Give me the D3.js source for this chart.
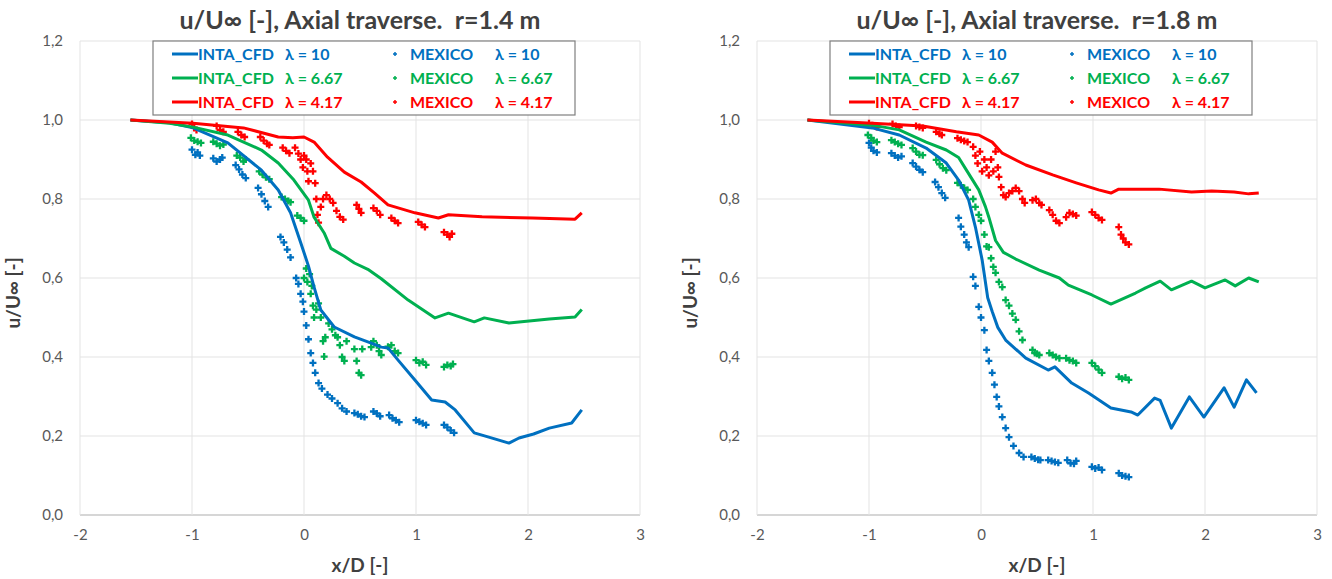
<!DOCTYPE html>
<html>
<head>
<meta charset="utf-8">
<script src="https://cdn.jsdelivr.net/npm/d3@7"></script>
<style>
  body { margin: 0; background: #fff; }
  svg { display: block; font-family: Lato, 'Open Sans', sans-serif; }
</style>
</head>
<body>
<div id="chart"></div>
<script>
// axis ticks
const xTicks = [-2, -1, 0, 1, 2, 3];
const yTicks = [0, 0.2, 0.4, 0.6, 0.8, 1.0, 1.2];

// series labels
const lambdas = ['10', '6.67', '4.17'];
const seriesColors = ['#0070C0', '#00B050', '#FF0000'];
const titles = ['u/U\u221E [-], Axial traverse.  r=1.4 m', 'u/U\u221E [-], Axial traverse.  r=1.8 m'];

// r = 1.4 m, INTA_CFD lines
const cfdL10 = [[-1.55,1.0],[-1.2,0.993],[-0.99,0.98],[-0.68,0.942],[-0.38,0.873],[-0.23,0.823],[-0.12,0.765],[-0.03,0.69],[0.04,0.63],[0.09,0.577],[0.15,0.519],[0.27,0.476],[0.45,0.451],[0.6,0.435],[0.69,0.425],[0.75,0.423],[0.84,0.392],[0.99,0.342],[1.14,0.291],[1.26,0.286],[1.35,0.266],[1.52,0.208],[1.65,0.197],[1.83,0.182],[1.92,0.195],[2.05,0.205],[2.19,0.22],[2.39,0.233],[2.48,0.266]];
const cfdL667 = [[-1.55,1.0],[-1.2,0.992],[-0.99,0.982],[-0.68,0.962],[-0.38,0.924],[-0.23,0.891],[-0.09,0.848],[0.04,0.797],[0.09,0.754],[0.18,0.714],[0.24,0.675],[0.36,0.655],[0.45,0.638],[0.57,0.622],[0.69,0.598],[0.93,0.544],[1.17,0.499],[1.29,0.511],[1.52,0.489],[1.61,0.499],[1.83,0.486],[2.19,0.496],[2.42,0.501],[2.48,0.52]];
const cfdL417 = [[-1.55,1.0],[-0.99,0.992],[-0.54,0.98],[-0.23,0.957],[-0.1,0.955],[0.0,0.957],[0.09,0.944],[0.21,0.906],[0.36,0.868],[0.51,0.843],[0.63,0.815],[0.75,0.785],[0.99,0.765],[1.2,0.752],[1.29,0.76],[1.59,0.755],[2.04,0.752],[2.42,0.749],[2.48,0.765]];

// r = 1.4 m, MEXICO points
const mexL10 = [[-1.0,0.925],[-0.97,0.912],[-0.95,0.918],[-0.93,0.91],
  [-0.81,0.903],[-0.78,0.895],[-0.75,0.9],[-0.73,0.905],
  [-0.61,0.886],[-0.58,0.875],[-0.55,0.862],[-0.52,0.853],
  [-0.41,0.828],[-0.38,0.812],[-0.35,0.795],[-0.32,0.78],
  [-0.21,0.704],[-0.18,0.69],[-0.15,0.672],[-0.12,0.652],
  [-0.07,0.6],[-0.05,0.585],[-0.03,0.56],[-0.01,0.54],[0.0,0.515],[0.02,0.48],[0.04,0.445],[0.06,0.41],[0.08,0.385],[0.1,0.36],[0.13,0.334],[0.16,0.32],[0.21,0.305],[0.25,0.295],[0.3,0.283],[0.34,0.27],[0.38,0.262],
  [0.45,0.258],[0.48,0.255],[0.51,0.25],[0.54,0.248],
  [0.62,0.262],[0.65,0.257],[0.68,0.25],
  [0.76,0.253],[0.79,0.245],[0.82,0.24],[0.85,0.235],
  [1.0,0.24],[1.03,0.236],[1.06,0.232],[1.09,0.228],
  [1.25,0.228],[1.28,0.222],[1.31,0.214],[1.34,0.208]];
const mexL667 = [[-1.01,0.955],[-0.98,0.948],[-0.95,0.945],[-0.92,0.942],
  [-0.81,0.945],[-0.78,0.94],[-0.75,0.935],[-0.72,0.938],
  [-0.6,0.91],[-0.57,0.905],[-0.54,0.895],[-0.52,0.9],
  [-0.4,0.87],[-0.37,0.862],[-0.34,0.855],[-0.31,0.85],
  [-0.2,0.805],[-0.17,0.8],[-0.14,0.795],[-0.12,0.792],
  [-0.06,0.758],[-0.03,0.752],[0.0,0.745],
  [0.0,0.6],[0.02,0.624],[0.03,0.59],[0.05,0.61],[0.06,0.56],[0.07,0.58],[0.08,0.53],[0.09,0.5],[0.11,0.52],
  [0.13,0.536],[0.15,0.5],[0.17,0.44],[0.18,0.401],[0.19,0.45],
  [0.22,0.485],[0.25,0.47],[0.28,0.455],
  [0.3,0.45],[0.32,0.43],[0.34,0.4],[0.36,0.39],[0.38,0.44],
  [0.45,0.42],[0.47,0.39],[0.49,0.36],[0.51,0.354],[0.52,0.42],
  [0.6,0.425],[0.62,0.44],[0.65,0.43],[0.67,0.415],[0.69,0.405],
  [0.75,0.426],[0.78,0.43],[0.81,0.415],[0.84,0.41],
  [1.0,0.392],[1.03,0.385],[1.06,0.388],[1.09,0.38],
  [1.25,0.375],[1.28,0.38],[1.31,0.377],[1.33,0.382]];
const mexL417 = [[-1.0,0.99],[-0.98,0.98],[-0.96,0.975],
  [-0.78,0.985],[-0.75,0.975],[-0.72,0.97],
  [-0.59,0.97],[-0.56,0.962],[-0.53,0.957],
  [-0.39,0.957],[-0.36,0.948],[-0.33,0.94],[-0.31,0.937],
  [-0.19,0.93],[-0.16,0.922],[-0.13,0.916],
  [-0.08,0.93],[-0.05,0.915],[-0.03,0.9],[-0.01,0.88],[0.0,0.91],[0.02,0.9],[0.03,0.87],[0.04,0.845],[0.06,0.89],[0.08,0.87],[0.1,0.84],[0.11,0.8],[0.12,0.76],[0.13,0.74],[0.15,0.78],[0.17,0.8],[0.2,0.81],[0.23,0.8],[0.26,0.79],[0.29,0.77],[0.32,0.755],[0.35,0.748],
  [0.47,0.785],[0.49,0.775],[0.51,0.765],
  [0.62,0.777],[0.65,0.77],[0.68,0.76],
  [0.78,0.752],[0.81,0.745],[0.84,0.739],
  [1.02,0.742],[1.05,0.735],[1.08,0.729],
  [1.25,0.716],[1.28,0.71],[1.3,0.704],[1.32,0.712]];

// r = 1.8 m, INTA_CFD lines
const cfdR10 = [[-1.55,1.0],[-0.97,0.98],[-0.73,0.962],[-0.49,0.929],[-0.31,0.891],[-0.2,0.848],[-0.11,0.797],[-0.05,0.729],[0.01,0.646],[0.06,0.55],[0.1,0.515],[0.15,0.475],[0.22,0.443],[0.4,0.397],[0.6,0.367],[0.66,0.375],[0.81,0.334],[0.96,0.309],[1.16,0.271],[1.34,0.261],[1.4,0.253],[1.55,0.296],[1.6,0.29],[1.7,0.22],[1.86,0.299],[1.99,0.248],[2.17,0.322],[2.26,0.273],[2.37,0.342],[2.46,0.309]];
const cfdR667 = [[-1.55,1.0],[-0.97,0.987],[-0.73,0.975],[-0.49,0.944],[-0.31,0.924],[-0.2,0.905],[-0.13,0.873],[-0.02,0.823],[0.04,0.78],[0.07,0.754],[0.13,0.695],[0.2,0.665],[0.31,0.648],[0.52,0.62],[0.7,0.6],[0.78,0.582],[0.99,0.557],[1.16,0.534],[1.38,0.562],[1.47,0.575],[1.6,0.592],[1.7,0.57],[1.88,0.592],[2.0,0.575],[2.18,0.595],[2.27,0.58],[2.39,0.6],[2.48,0.59]];
const cfdR417 = [[-1.55,1.0],[-0.97,0.992],[-0.52,0.985],[-0.22,0.97],[-0.02,0.962],[0.1,0.944],[0.19,0.916],[0.4,0.886],[0.64,0.861],[0.85,0.841],[1.05,0.823],[1.16,0.815],[1.23,0.825],[1.59,0.825],[1.88,0.818],[2.06,0.82],[2.26,0.818],[2.39,0.813],[2.48,0.815]];

// r = 1.8 m, MEXICO points
const mexR10 = [[-1.0,0.942],[-0.98,0.93],[-0.96,0.922],[-0.93,0.918],
  [-0.8,0.916],[-0.77,0.91],[-0.74,0.905],[-0.71,0.908],
  [-0.61,0.891],[-0.58,0.882],[-0.55,0.874],[-0.52,0.868],
  [-0.41,0.843],[-0.38,0.83],[-0.35,0.815],[-0.32,0.803],
  [-0.2,0.752],[-0.18,0.73],[-0.15,0.71],[-0.13,0.69],[-0.11,0.678],
  [-0.07,0.603],[-0.05,0.58],[-0.02,0.527],[0.0,0.5],[0.03,0.468],[0.05,0.418],[0.07,0.39],[0.1,0.36],[0.12,0.33],[0.14,0.299],[0.16,0.275],[0.19,0.248],[0.22,0.22],[0.25,0.197],[0.29,0.175],[0.34,0.157],[0.38,0.147],
  [0.45,0.147],[0.48,0.143],[0.51,0.14],[0.53,0.139],
  [0.6,0.139],[0.63,0.137],[0.66,0.134],[0.69,0.132],
  [0.77,0.139],[0.8,0.131],[0.83,0.13],[0.85,0.137],
  [0.99,0.122],[1.02,0.118],[1.05,0.12],[1.08,0.114],
  [1.23,0.106],[1.26,0.1],[1.29,0.098],[1.32,0.096]];
const mexR667 = [[-1.01,0.962],[-0.98,0.955],[-0.96,0.948],[-0.93,0.944],
  [-0.8,0.949],[-0.77,0.944],[-0.74,0.94],[-0.71,0.937],
  [-0.61,0.929],[-0.58,0.92],[-0.55,0.912],[-0.52,0.911],
  [-0.4,0.899],[-0.37,0.888],[-0.34,0.878],[-0.31,0.873],
  [-0.21,0.841],[-0.18,0.835],[-0.15,0.828],[-0.12,0.823],
  [-0.07,0.8],[-0.05,0.78],[-0.02,0.76],[0.0,0.745],[0.03,0.71],[0.05,0.68],[0.07,0.678],[0.09,0.65],[0.11,0.628],[0.13,0.613],[0.16,0.59],[0.19,0.577],[0.22,0.544],[0.25,0.53],[0.28,0.51],[0.31,0.494],[0.34,0.465],[0.37,0.443],
  [0.46,0.418],[0.48,0.41],[0.5,0.408],[0.52,0.405],
  [0.61,0.41],[0.64,0.405],[0.67,0.4],[0.7,0.397],
  [0.76,0.397],[0.79,0.392],[0.82,0.39],[0.85,0.385],
  [0.99,0.385],[1.02,0.377],[1.05,0.368],[1.08,0.36],
  [1.23,0.35],[1.26,0.345],[1.29,0.348],[1.32,0.342]];
const mexR417 = [[-1.0,0.992],[-0.97,0.987],[-0.93,0.982],
  [-0.79,0.99],[-0.76,0.985],[-0.73,0.982],
  [-0.58,0.985],[-0.55,0.982],[-0.52,0.98],
  [-0.4,0.97],[-0.37,0.965],[-0.35,0.962],
  [-0.21,0.954],[-0.18,0.95],[-0.15,0.947],[-0.12,0.944],
  [-0.07,0.932],[-0.05,0.91],[-0.03,0.89],[-0.01,0.92],[0.01,0.87],[0.03,0.9],[0.05,0.88],[0.07,0.86],[0.09,0.9],[0.11,0.87],[0.13,0.92],[0.15,0.88],[0.16,0.856],[0.18,0.83],[0.2,0.81],[0.22,0.805],[0.25,0.815],[0.28,0.82],[0.31,0.828],[0.34,0.82],[0.37,0.8],[0.39,0.79],
  [0.46,0.797],[0.49,0.8],[0.52,0.79],[0.54,0.785],
  [0.61,0.772],[0.64,0.76],[0.67,0.745],[0.7,0.739],
  [0.76,0.754],[0.79,0.765],[0.82,0.762],[0.85,0.758],
  [0.99,0.767],[1.02,0.76],[1.05,0.752],[1.08,0.747],
  [1.23,0.729],[1.25,0.71],[1.27,0.7],[1.29,0.69],[1.32,0.685]];

const width = 1332;
const height = 579;
const plotTop = 41;
const plotBottom = 515;
const plotWidth = 560;

const svg = d3
  .select('#chart')
  .append('svg')
  .attr('width', width)
  .attr('height', height);

const numFmt = (v) => d3.format('.1f')(v).replace('.', ',');
const plus = 'M-3.5,0H3.5M0,-3.5V3.5';

const drawPanel = (left, title, cfd, mex) => {
  const xScale = d3.scaleLinear().domain([-2, 3]).range([left, left + plotWidth]);
  const yScale = d3.scaleLinear().domain([0, 1.2]).range([plotBottom, plotTop]);
  const g = svg.append('g');

  // gridlines
  g.append('g')
    .selectAll('line')
    .data(yTicks)
    .join('line')
    .attr('x1', xScale(-2))
    .attr('x2', xScale(3))
    .attr('y1', (d) => yScale(d))
    .attr('y2', (d) => yScale(d))
    .attr('stroke', (d) => (d === 0 ? '#c8c8c8' : '#e3e3e3'))
    .attr('stroke-width', (d) => (d === 0 ? 1.5 : 1));
  g.append('g')
    .selectAll('line')
    .data(xTicks)
    .join('line')
    .attr('x1', (d) => xScale(d))
    .attr('x2', (d) => xScale(d))
    .attr('y1', yScale(0))
    .attr('y2', yScale(1.2))
    .attr('stroke', '#e3e3e3');

  // axes (labels only)
  const xAxis = d3.axisBottom(xScale).tickValues(xTicks).tickSize(0).tickPadding(14).tickFormat((d) => String(d));
  const xg = g.append('g').attr('transform', `translate(0,${plotBottom})`).call(xAxis);
  const yAxis = d3.axisLeft(yScale).tickValues(yTicks).tickSize(0).tickPadding(17).tickFormat(numFmt);
  const yg = g.append('g').attr('transform', `translate(${left},0)`).call(yAxis);
  [xg, yg].forEach((a) => {
    a.select('.domain').remove();
    a.selectAll('text')
      .attr('fill', '#595959')
      .style('font-family', "Lato, 'Open Sans', sans-serif")
      .style('font-size', '15px');
  });

  // MEXICO markers
  mex.forEach((pts, i) => {
    g.append('g')
      .selectAll('path')
      .data(pts)
      .join('path')
      .attr('d', plus)
      .attr('transform', (d) => `translate(${xScale(d[0])},${yScale(d[1])})`)
      .attr('stroke', seriesColors[i])
      .attr('stroke-width', 2.3)
      .attr('fill', 'none');
  });

  // INTA_CFD lines
  const line = d3.line().x((d) => xScale(d[0])).y((d) => yScale(d[1])).curve(d3.curveLinear);
  cfd.forEach((pts, i) => {
    g.append('path')
      .datum(pts)
      .attr('d', line)
      .attr('fill', 'none')
      .attr('stroke', seriesColors[i])
      .attr('stroke-width', 3)
      .attr('stroke-linejoin', 'round');
  });

  // title
  g.append('text')
    .attr('x', left + plotWidth / 2)
    .attr('y', 29)
    .attr('text-anchor', 'middle')
    .style('white-space', 'pre')
    .style('font-size', '25px')
    .style('font-weight', 'bold')
    .attr('fill', '#404040')
    .text(title);

  // axis titles
  g.append('text')
    .attr('x', left + plotWidth / 2)
    .attr('y', 572)
    .attr('text-anchor', 'middle')
    .style('font-size', '19px')
    .style('font-weight', 'bold')
    .attr('fill', '#404040')
    .text('x/D [-]');
  g.append('text')
    .attr('transform', `translate(${left - 60},${(plotTop + plotBottom) / 2 + 15}) rotate(-90)`)
    .attr('text-anchor', 'middle')
    .style('font-size', '19px')
    .style('font-weight', 'bold')
    .attr('fill', '#404040')
    .text('u/U\u221E [-]');

  // legend
  const lg = g.append('g').attr('transform', `translate(${left + 73},41)`);
  lg.append('rect')
    .attr('width', 422)
    .attr('height', 74)
    .attr('fill', '#fff')
    .attr('stroke', '#7f7f7f')
    .attr('stroke-width', 1.2);
  lambdas.forEach((lam, i) => {
    const row = lg.append('g').attr('transform', `translate(0,${13 + i * 24})`);
    const c = seriesColors[i];
    row.append('line').attr('x1', 19).attr('x2', 45).attr('stroke', c).attr('stroke-width', 3);
    row.append('path').attr('d', 'M-2,0H2M0,-2V2').attr('transform', 'translate(242,0)').attr('stroke', c).attr('stroke-width', 1.5);
    const items = [[45, 'INTA_CFD'], [132, '\u03BB = ' + lam], [257, 'MEXICO'], [342, '\u03BB = ' + lam]];
    items.forEach(([x, t]) => {
      row.append('text')
        .attr('x', x)
        .attr('y', 6)
        .style('font-size', '16px')
        .style('font-weight', 'bold')
        .attr('fill', c)
        .text(t);
    });
  });
};

drawPanel(80, titles[0], [cfdL10, cfdL667, cfdL417], [mexL10, mexL667, mexL417]);
drawPanel(757, titles[1], [cfdR10, cfdR667, cfdR417], [mexR10, mexR667, mexR417]);
</script>
</body>
</html>
